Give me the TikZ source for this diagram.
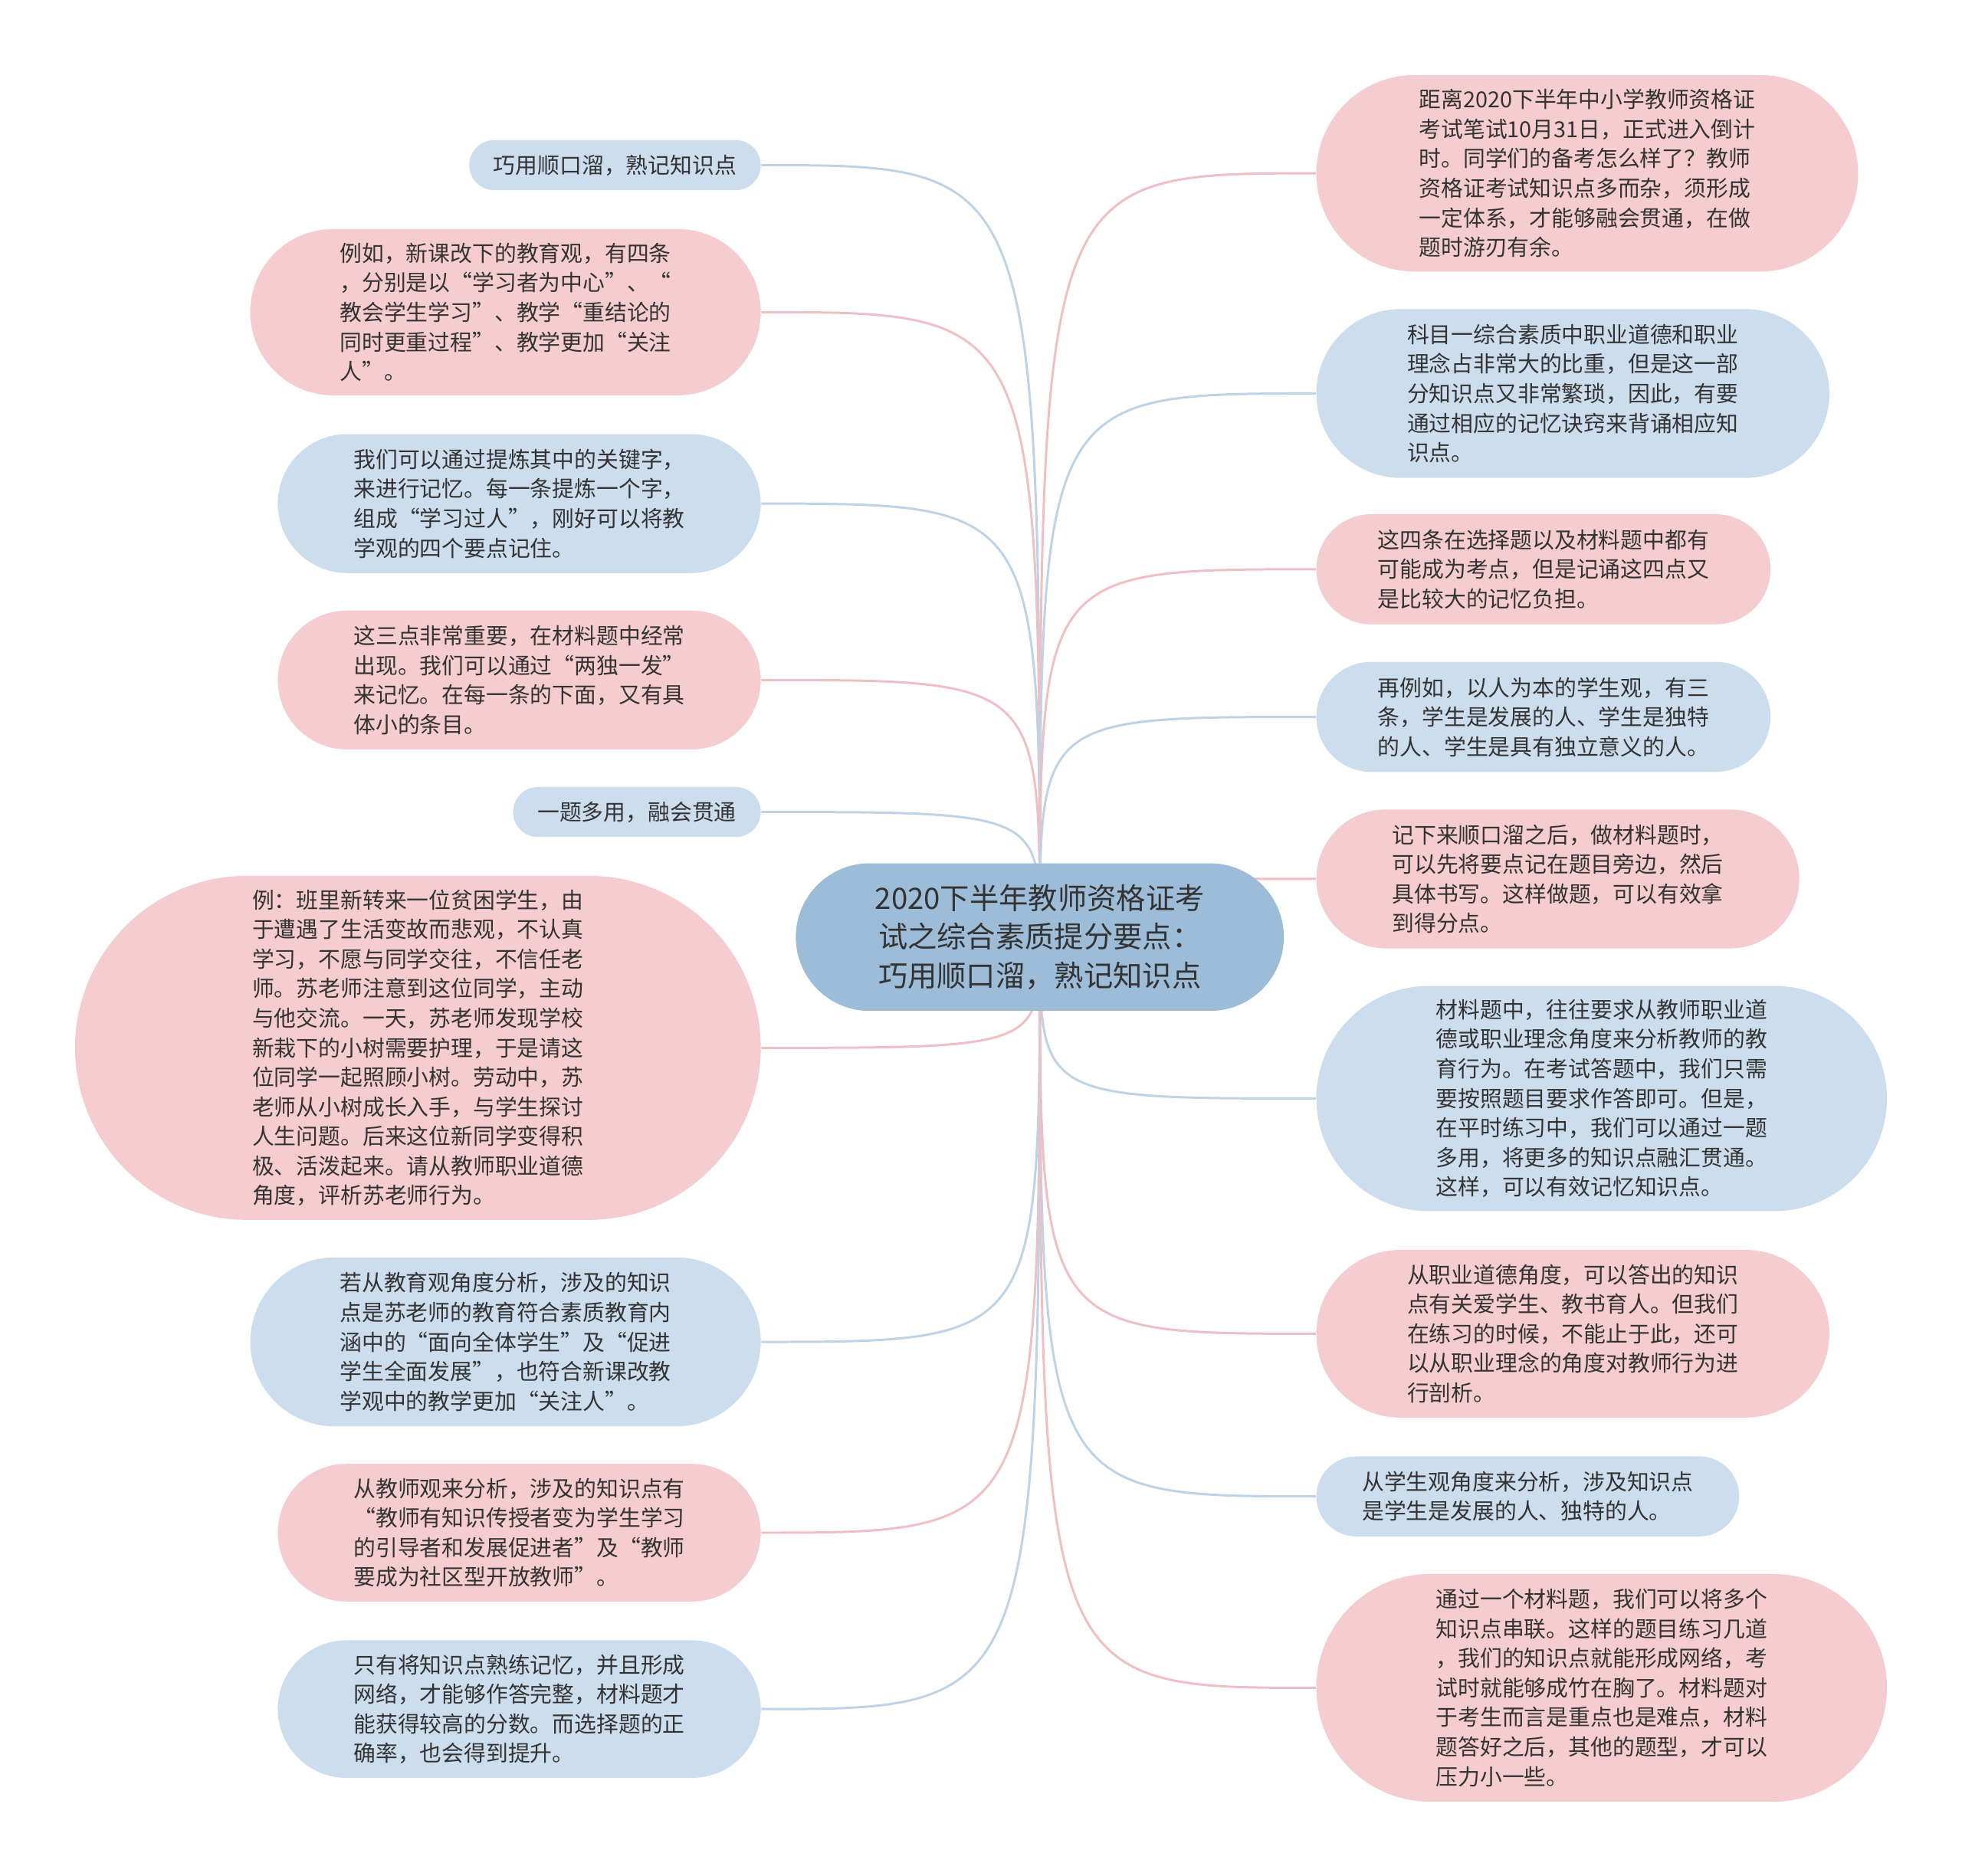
\documentclass[tikz,border=0pt]{standalone}
\usepackage{fontspec}
\setmainfont{Noto Sans CJK SC}
\usepackage{xcolor}
\usepackage{tikz}
\usetikzlibrary{positioning,backgrounds}

\definecolor{pinkfill}{HTML}{F5CCCF}
\definecolor{bluefill}{HTML}{CCDDED}
\definecolor{rootfill}{HTML}{9DBCD8}
\definecolor{pinkedge}{HTML}{F0BFC3}
\definecolor{blueedge}{HTML}{BFD3E6}
\definecolor{inktext}{HTML}{333333}
\newcommand{\px}{0.016327cm}

\begin{document}
\begin{tikzpicture}[x=0.016327cm, y=-0.016327cm, leaf/.style 2 args={minimum width=#1*\px, minimum height=#2*\px, rounded corners=#2*0.5*\px, inner sep=1pt, align=left, text=inktext, font=\fontsize{8.2pt}{10.97pt}\selectfont}, pinkleaf/.style={fill=pinkfill}, blueleaf/.style={fill=bluefill}, twig/.style={line width=0.85pt, to path={.. controls (\tikztostart |- \tikztotarget) .. (\tikztotarget)}}, pinkline/.style={twig, draw=pinkedge}, blueline/.style={twig, draw=blueedge}]

\useasboundingbox (0,0) rectangle (1568,1499);

\node[leaf={390}{118}, fill=rootfill, align=center, font=\fontsize{10.9pt}{14.35pt}\selectfont] (root) at (831,749) {2020下半年教师资格证考\\试之综合素质提分要点：\\巧用顺口溜，熟记知识点};

% left side
\node[leaf={233}{40}, blueleaf] (l1) at (491.5,132) {巧用顺口溜，熟记知识点};
\node[leaf={408}{133}, pinkleaf] (l2) at (404,249.5) {例如，新课改下的教育观，有四条\\，分别是以“学习者为中心”、“\\教会学生学习”、教学“重结论的\\同时更重过程”、教学更加“关注\\人”。};
\node[leaf={386}{111}, blueleaf] (l3) at (415,402.5) {我们可以通过提炼其中的关键字，\\来进行记忆。每一条提炼一个字，\\组成“学习过人”，刚好可以将教\\学观的四个要点记住。};
\node[leaf={386}{111}, pinkleaf] (l4) at (415,543.5) {这三点非常重要，在材料题中经常\\出现。我们可以通过“两独一发”\\来记忆。在每一条的下面，又有具\\体小的条目。};
\node[leaf={198}{40}, blueleaf] (l5) at (509,649) {一题多用，融会贯通};
\node[leaf={548}{275}, pinkleaf] (l6) at (334,837.5) {例：班里新转来一位贫困学生，由\\于遭遇了生活变故而悲观，不认真\\学习，不愿与同学交往，不信任老\\师。苏老师注意到这位同学，主动\\与他交流。一天，苏老师发现学校\\新栽下的小树需要护理，于是请这\\位同学一起照顾小树。劳动中，苏\\老师从小树成长入手，与学生探讨\\人生问题。后来这位新同学变得积\\极、活泼起来。请从教师职业道德\\角度，评析苏老师行为。};
\node[leaf={408}{135}, blueleaf] (l7) at (404,1072.5) {若从教育观角度分析，涉及的知识\\点是苏老师的教育符合素质教育内\\涵中的“面向全体学生”及“促进\\学生全面发展”，也符合新课改教\\学观中的教学更加“关注人”。};
\node[leaf={386}{110}, pinkleaf] (l8) at (415,1225) {从教师观来分析，涉及的知识点有\\“教师有知识传授者变为学生学习\\的引导者和发展促进者”及“教师\\要成为社区型开放教师”。};
\node[leaf={386}{110}, blueleaf] (l9) at (415,1366) {只有将知识点熟练记忆，并且形成\\网络，才能够作答完整，材料题才\\能获得较高的分数。而选择题的正\\确率，也会得到提升。};

% right side
\node[leaf={433}{157}, pinkleaf] (r1) at (1268.5,138.5) {距离2020下半年中小学教师资格证\\考试笔试10月31日，正式进入倒计\\时。同学们的备考怎么样了？教师\\资格证考试知识点多而杂，须形成\\一定体系，才能够融会贯通，在做\\题时游刃有余。};
\node[leaf={410}{135}, blueleaf] (r2) at (1257,314.5) {科目一综合素质中职业道德和职业\\理念占非常大的比重，但是这一部\\分知识点又非常繁琐，因此，有要\\通过相应的记忆诀窍来背诵相应知\\识点。};
\node[leaf={363}{88}, pinkleaf] (r3) at (1233.5,455) {这四条在选择题以及材料题中都有\\可能成为考点，但是记诵这四点又\\是比较大的记忆负担。};
\node[leaf={363}{88}, blueleaf] (r4) at (1233.5,573) {再例如，以人为本的学生观，有三\\条，学生是发展的人、学生是独特\\的人、学生是具有独立意义的人。};
\node[leaf={386}{111}, pinkleaf] (r5) at (1245,702.5) {记下来顺口溜之后，做材料题时，\\可以先将要点记在题目旁边，然后\\具体书写。这样做题，可以有效拿\\到得分点。};
\node[leaf={456}{180}, blueleaf] (r6) at (1280,878) {材料题中，往往要求从教师职业道\\德或职业理念角度来分析教师的教\\育行为。在考试答题中，我们只需\\要按照题目要求作答即可。但是，\\在平时练习中，我们可以通过一题\\多用，将更多的知识点融汇贯通。\\这样，可以有效记忆知识点。};
\node[leaf={410}{134}, pinkleaf] (r7) at (1257,1066) {从职业道德角度，可以答出的知识\\点有关爱学生、教书育人。但我们\\在练习的时候，不能止于此，还可\\以从职业理念的角度对教师行为进\\行剖析。};
\node[leaf={338}{64}, blueleaf] (r8) at (1221,1196) {从学生观角度来分析，涉及知识点\\是学生是发展的人、独特的人。};
\node[leaf={456}{182}, pinkleaf] (r9) at (1280,1349) {通过一个材料题，我们可以将多个\\知识点串联。这样的题目练习几道\\，我们的知识点就能形成网络，考\\试时就能够成竹在胸了。材料题对\\于考生而言是重点也是难点，材料\\题答好之后，其他的题型，才可以\\压力小一些。};

\begin{scope}[on background layer]
\path
 (root.center) edge[blueline] (l1.east)
 (root.center) edge[pinkline] (l2.east)
 (root.center) edge[blueline] (l3.east)
 (root.center) edge[pinkline] (l4.east)
 (root.center) edge[blueline] (l5.east)
 (root.center) edge[pinkline] (l6.east)
 (root.center) edge[blueline] (l7.east)
 (root.center) edge[pinkline] (l8.east)
 (root.center) edge[blueline] (l9.east)
 (root.center) edge[pinkline] (r1.west)
 (root.center) edge[blueline] (r2.west)
 (root.center) edge[pinkline] (r3.west)
 (root.center) edge[blueline] (r4.west)
 (root.center) edge[pinkline] (r5.west)
 (root.center) edge[blueline] (r6.west)
 (root.center) edge[pinkline] (r7.west)
 (root.center) edge[blueline] (r8.west)
 (root.center) edge[pinkline] (r9.west);
\end{scope}
\end{tikzpicture}
\end{document}
